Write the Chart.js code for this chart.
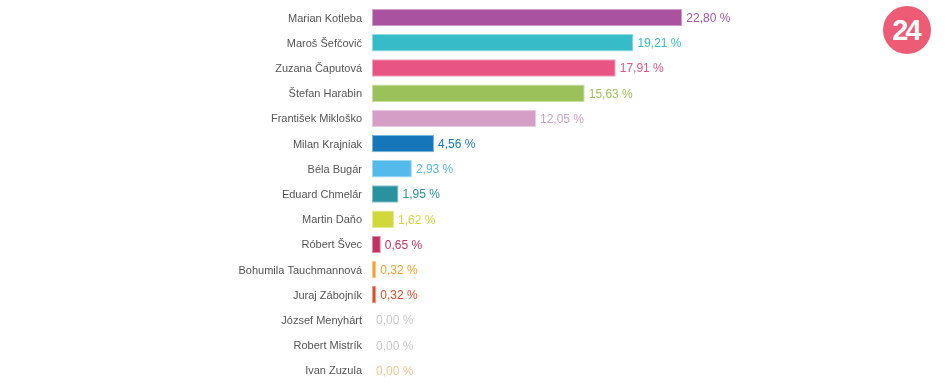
<!DOCTYPE html>
<html>
<head>
<meta charset="utf-8">
<script src="https://cdn.jsdelivr.net/npm/chart.js@4/dist/chart.umd.min.js"></script>
<style>
  body { margin: 0; background: #fff; }
  #wrap { position: relative; width: 950px; height: 385px; }
  canvas { display: block; }
  #logo {
    position: absolute; left: 883px; top: 6px; width: 48px; height: 48px;
    border-radius: 50%; background: #ee5b75; color: #fff;
    font: bold 29px "Liberation Sans", Arial, sans-serif; letter-spacing: -3px;
    text-align: center; line-height: 48px; text-indent: -3px;
  }
</style>
</head>
<body>
<div id="wrap">
  <canvas id="myChart" width="950" height="385"></canvas>
  <div id="logo">24</div>
</div>
<script>
// kandidati a vysledky v %
const candidates = [
    'Marian Kotleba', 'Maroš Šefčovič', 'Zuzana Čaputová', 'Štefan Harabin',
    'František Mikloško', 'Milan Krajniak', 'Béla Bugár', 'Eduard Chmelár',
    'Martin Daňo', 'Róbert Švec', 'Bohumila Tauchmannová', 'Juraj Zábojník',
    'József Menyhárt', 'Robert Mistrík', 'Ivan Zuzula'
];
const results = [22.80, 19.21, 17.91, 15.63, 12.05, 4.56, 2.93, 1.95, 1.62, 0.65, 0.32, 0.32, 0.00, 0.00, 0.00];

const barColors = [
    '#a9529f', '#35bcc8', '#e85585', '#9bc25a', '#d59ec7', '#1577b9', '#54b9eb',
    '#2a929f', '#d0d83c', '#c2315f', '#f5a02d', '#e04b2a', '#c8c8c8', '#c8c8c8', '#fcc48e'
];

function lighten(hex, amt){
    const n = parseInt(hex.slice(1), 16);
    const r = (n >> 16) & 255, g = (n >> 8) & 255, b = n & 255;
    const mix = c => Math.round(c + (255 - c) * amt);
    return `rgb(${mix(r)}, ${mix(g)}, ${mix(b)})`;
}

const valueLabels = {
    id: 'valueLabels',
    afterDatasetsDraw(chart){
        const ctx = chart.ctx;
        const meta = chart.getDatasetMeta(0);
        ctx.save();
        ctx.font = '12px "Liberation Sans", Arial, sans-serif';
        ctx.textAlign = 'left';
        ctx.textBaseline = 'middle';
        meta.data.forEach((bar, i) => {
            ctx.fillStyle = barColors[i];
            const txt = results[i].toFixed(2).replace('.', ',') + ' %';
            ctx.fillText(txt, bar.x + 4, bar.y + 1);
        });
        ctx.restore();
    }
};

function createChart(){
    const ctx = document.getElementById('myChart').getContext('2d');
    new Chart(ctx, {
        type: 'bar',
        data: {
            labels: candidates,
            datasets: [{
                data: results,
                backgroundColor: barColors,
                borderColor: barColors.map(c => lighten(c, 0.45)),
                borderWidth: 1,
                borderSkipped: false,
                barPercentage: 0.69,
                categoryPercentage: 1
            }]
        },
        options: {
            indexAxis: 'y',
            responsive: false,
            animation: false,
            layout: { padding: { top: 5, bottom: 2, left: 0, right: 20 } },
            plugins: { legend: { display: false }, tooltip: { enabled: false } },
            scales: {
                x: { display: false, min: 0, max: 41 },
                y: {
                    grid: { display: false, drawTicks: false },
                    border: { display: false },
                    afterFit(scale){
                        scale.width = 372;
                        scale.paddingTop = 0;
                        scale.paddingBottom = 0;
                    },
                    ticks: {
                        padding: 10,
                        labelOffset: 1,
                        color: '#555',
                        font: { family: '"Liberation Sans", Arial, sans-serif', size: 11 }
                    }
                }
            }
        },
        plugins: [valueLabels]
    });
}

createChart();
</script>
</body>
</html>
